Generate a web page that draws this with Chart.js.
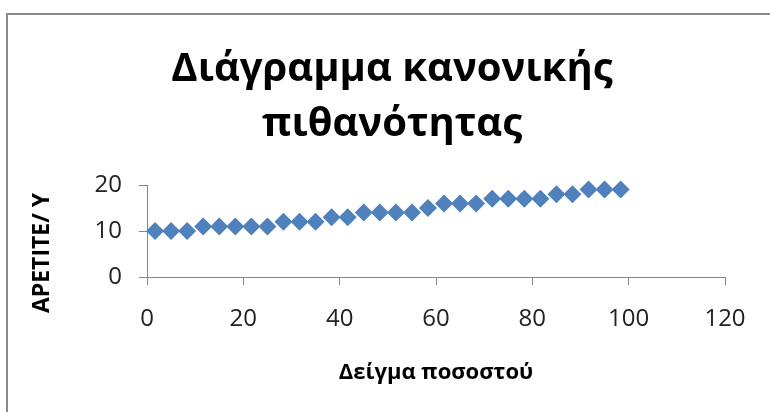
<!DOCTYPE html>
<html>
<head>
<meta charset="utf-8">
<title>Διάγραμμα κανονικής πιθανότητας</title>
<script src="https://cdn.jsdelivr.net/npm/chart.js@4/dist/chart.umd.min.js"></script>
<style>
  body { margin: 0; background: #fff; }
  #frame {
    position: absolute; left: 6px; top: 13px; width: 800px; height: 420px;
    border-left: 2px solid #8c8c8c; border-top: 2px solid #8c8c8c;
  }
  #wrap { position: absolute; left: 0; top: 0; width: 770px; height: 412px; }
</style>
</head>
<body>
<div id="frame"></div>
<div id="wrap"><canvas id="probChart"></canvas></div>
<script>
// sample percentile (x) and sorted appetite values (y)
const percentiles = [1.67, 5, 8.33, 11.67, 15, 18.33, 21.67, 25, 28.33, 31.67,
                     35, 38.33, 41.67, 45, 48.33, 51.67, 55, 58.33, 61.67, 65,
                     68.33, 71.67, 75, 78.33, 81.67, 85, 88.33, 91.67, 95, 98.33];
const appetite = [10, 10, 10, 11, 11, 11, 11, 11, 12, 12,
                  12, 13, 13, 14, 14, 14, 14, 15, 16, 16,
                  16, 17, 17, 17, 17, 18, 18, 19, 19, 19];
const xTicks = [0, 20, 40, 60, 80, 100, 120];
const yTicks = [0, 10, 20];

const axisColor = '#868686';
const tickFont = { family: 'Open Sans', size: 24 };

// rotated y-axis caption, sits a little below the plot's vertical middle
const yCaption = {
    id: 'yCaption',
    afterDraw(chart) {
        const ctx = chart.ctx;
        ctx.save();
        ctx.translate(42, 253);
        ctx.rotate(-Math.PI / 2);
        ctx.font = 'bold 23px "Open Sans"';
        ctx.fillStyle = '#000';
        ctx.textAlign = 'center';
        ctx.textBaseline = 'middle';
        ctx.fillText('APETITE/ Y', 0, 0);
        ctx.restore();
    }
};

const points = percentiles.map((p, i) => ({ x: p, y: appetite[i] }));

new Chart(document.getElementById('probChart'), {
    type: 'scatter',
    data: {
        datasets: [{
            label: 'APETITE/ Y',
            data: points,
            pointStyle: 'rectRot',
            pointRadius: 9,
            pointHoverRadius: 9,
            pointBorderWidth: 0,
            backgroundColor: '#4f81bd',
            borderColor: '#4f81bd',
            clip: false
        }]
    },
    options: {
        responsive: true,
        maintainAspectRatio: false,
        animation: false,
        layout: { padding: { top: 14, left: 59, right: 45, bottom: 0 } },
        plugins: {
            legend: { display: false },
            tooltip: { enabled: false },
            title: {
                display: true,
                text: ['Διάγραμμα κανονικής', 'πιθανότητας'],
                color: '#000',
                font: { family: 'Open Sans', size: 40, weight: 'bold', lineHeight: 1.375 },
                padding: { top: 28, bottom: 33 }
            }
        },
        scales: {
            x: {
                type: 'linear',
                min: 0,
                max: 120,
                afterBuildTicks: s => { s.ticks = xTicks.map(v => ({ value: v })); },
                afterFit: s => { s.height = 135; },
                ticks: { color: '#222', font: tickFont, padding: 20 },
                grid: { drawOnChartArea: false, drawTicks: true, tickLength: 8, color: axisColor },
                border: { color: axisColor },
                title: {
                    display: true,
                    text: 'Δείγμα ποσοστού',
                    color: '#000',
                    font: { family: 'Open Sans', size: 22, weight: 'bold' },
                    padding: { top: 0, bottom: 26 }
                }
            },
            y: {
                min: 0,
                max: 20,
                afterBuildTicks: s => { s.ticks = yTicks.map(v => ({ value: v })); },
                afterFit: s => { s.width = 88; },
                ticks: { color: '#222', font: tickFont, padding: 17 },
                grid: { drawOnChartArea: false, drawTicks: true, tickLength: 8, color: axisColor },
                border: { color: axisColor }
            }
        }
    },
    plugins: [yCaption]
});
</script>
</body>
</html>
